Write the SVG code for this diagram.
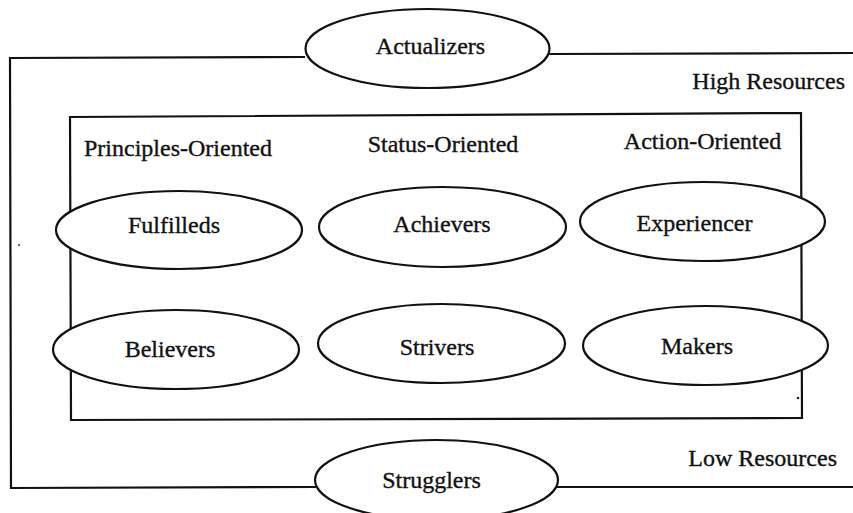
<svg xmlns="http://www.w3.org/2000/svg" width="853" height="513" viewBox="0 0 853 513">
<style>
.ln{fill:none;stroke:#111;stroke-width:2.2;stroke-linejoin:miter}
.el{fill:#fff;stroke:#111;stroke-width:2.2}
.t{font-family:"Liberation Serif","Times New Roman",serif;font-size:24px;fill:#111;stroke:#111;stroke-width:0.35}
.m{text-anchor:middle}
</style>
<rect width="853" height="513" fill="#fff"/>
<g id="frames">
<path class="ln" d="M305,57 L10,58 L11,488 L316,487"/>
<path class="ln" d="M549,54 L853,53"/>
<path class="ln" d="M557,487 L853,487"/>
<path class="ln" d="M70,117 L801,113 L802,418 L71,420 Z"/>
<circle cx="19" cy="245" r="1" fill="#333"/>
<circle cx="798" cy="398" r="1.3" fill="#222"/>
</g>
<g id="labels">
<text class="t" x="845" y="89" text-anchor="end">High Resources</text>
<text class="t" x="837" y="466" text-anchor="end">Low Resources</text>
<text class="t" x="84" y="156">Principles-Oriented</text>
<text class="t m" x="443" y="152">Status-Oriented</text>
<text class="t m" x="702.5" y="149">Action-Oriented</text>
</g>
<g id="actualizers"><ellipse class="el" cx="427.5" cy="48.5" rx="122" ry="39.5"/><text class="t m" x="430.5" y="54">Actualizers</text></g>
<g id="fulfilleds"><ellipse class="el" cx="179" cy="230" rx="123" ry="39"/><text class="t m" x="174" y="233">Fulfilleds</text></g>
<g id="achievers"><ellipse class="el" cx="442.5" cy="227" rx="123.5" ry="40"/><text class="t m" x="442" y="232">Achievers</text></g>
<g id="experiencer"><ellipse class="el" cx="702.5" cy="221.5" rx="122.5" ry="39.5"/><text class="t m" x="694.5" y="231">Experiencer</text></g>
<g id="believers"><ellipse class="el" cx="176" cy="349.5" rx="123" ry="39.5"/><text class="t m" x="170" y="357">Believers</text></g>
<g id="strivers"><ellipse class="el" cx="441.5" cy="343.5" rx="123.5" ry="39.5"/><text class="t m" x="437" y="355">Strivers</text></g>
<g id="makers"><ellipse class="el" cx="705.5" cy="345.5" rx="122.5" ry="39.5"/><text class="t m" x="697" y="354">Makers</text></g>
<g id="strugglers"><ellipse class="el" cx="436.5" cy="480" rx="121.5" ry="40"/><text class="t m" x="431.5" y="488">Strugglers</text></g>
</svg>
